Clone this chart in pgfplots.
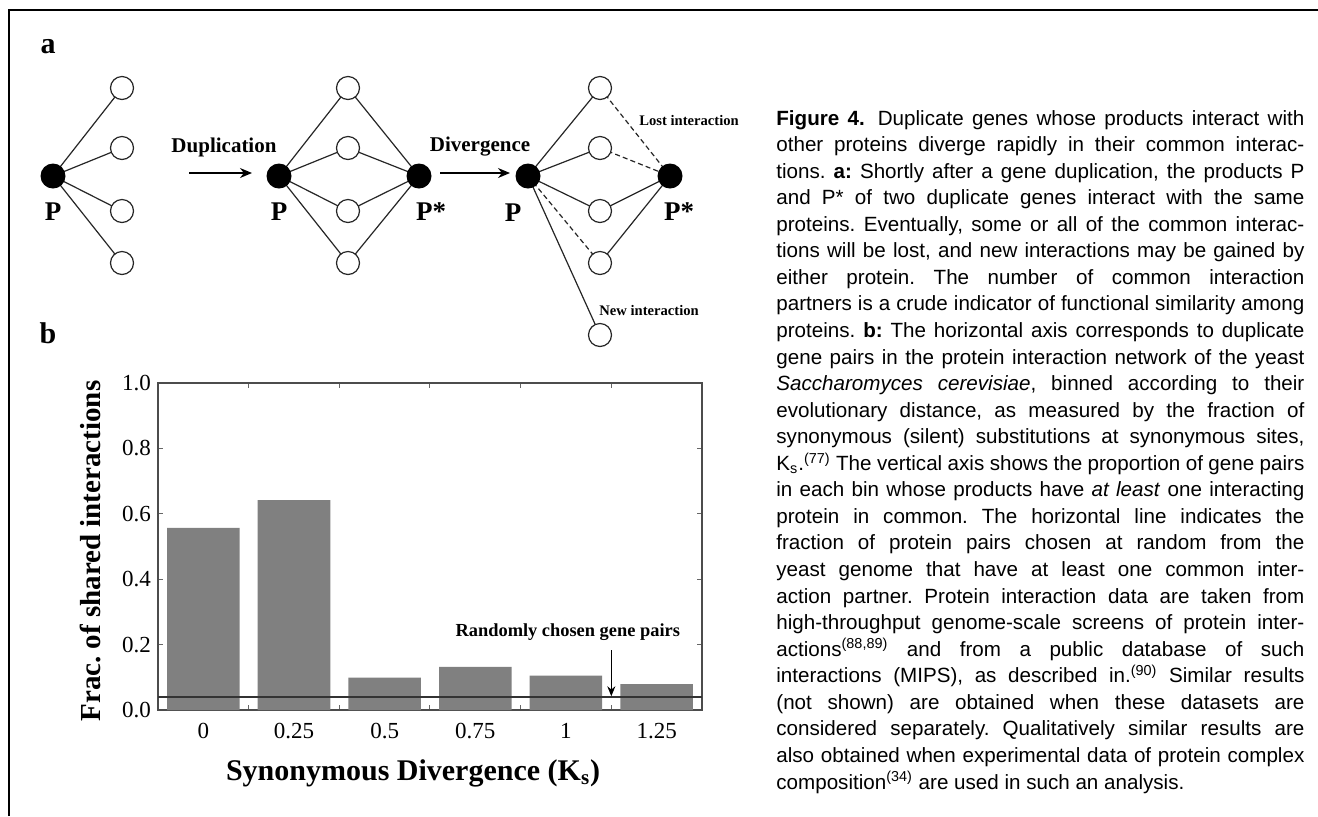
\documentclass[border=0pt]{standalone}
\usepackage{fontspec}
\setmainfont{Liberation Serif}
\setsansfont{Liberation Sans}
\usepackage{pgfplots}
\usepackage{pgfplotstable}
\pgfplotsset{compat=1.18}
\usetikzlibrary{arrows.meta}

\pgfplotstableread{
x y
0 0.557
1 0.642
2 0.099
3 0.132
4 0.105
5 0.079
}\bardata

\newcommand\cl[1]{\hbox to 264pt{#1}}

\begin{document}
\frenchspacing
\begin{tikzpicture}
\begin{scope}[x=0.5pt,y=-0.5pt]
\fill[white] (0,0) rectangle (1318,816);
\path[use as bounding box] (0,0) rectangle (1318,816);
\draw[line width=1pt] (8.5,816) -- (8.5,10) -- (1318,10);
\node[font=\fontsize{15}{15}\selectfont\bfseries, anchor=base, inner sep=0] at (48,53) {a};
\node[font=\fontsize{15}{15}\selectfont\bfseries, anchor=base, inner sep=0] at (48,343) {b};
% edges
\begin{scope}[line width=0.6pt, draw=black!85]
\foreach \y in {88,148,211,263} {
  \draw (53,176) -- (122,\y);
  \draw (279,176) -- (348,\y) -- (419,176);
}
\foreach \y in {88,148,211} \draw (528,176) -- (600,\y);
\draw[dash pattern=on 2.5pt off 1.6pt] (528,176) -- (600,263);
\draw (528,176) -- (600,335);
\draw[dash pattern=on 2.5pt off 1.6pt] (600,88) -- (670,176) (600,148) -- (670,176);
\draw (600,211) -- (670,176) (600,263) -- (670,176);
\end{scope}
\foreach \x in {122,348,600} \foreach \y in {88,148,211,263}
  \draw[draw=black!85, fill=white, line width=0.6pt] (\x,\y) circle[radius=11.5];
\draw[draw=black!85, fill=white, line width=0.6pt] (600,335) circle[radius=11.5];
\foreach \x in {53,279,419,528,670} \fill[black] (\x,176) circle[radius=12.5];
% labels
\begin{scope}[font=\fontsize{13.5}{13.5}\selectfont\bfseries, inner sep=0]
\node at (53,212) {P};
\node at (279,212) {P};
\node at (431,212) {P*};
\node at (513,213) {P};
\node at (679,212) {P*};
\end{scope}
\node[font=\fontsize{10.5}{10.5}\selectfont\bfseries, inner sep=0] at (224,147) {Duplication};
\node[font=\fontsize{10.5}{10.5}\selectfont\bfseries, inner sep=0] at (480,147) {Divergence};
\draw[-{Stealth[length=6pt,width=5pt]}, line width=0.7pt] (189,173) -- (252,173);
\draw[-{Stealth[length=6pt,width=5pt]}, line width=0.7pt] (440,173) -- (510,173);
\node[font=\fontsize{7.3}{7.3}\selectfont\bfseries, inner sep=0, anchor=west] at (639,120) {Lost interaction};
\node[font=\fontsize{7.3}{7.3}\selectfont\bfseries, inner sep=0, anchor=west] at (599,310) {New interaction};
% caption
\node[anchor=base west, inner sep=0, font=\sffamily\fontsize{10.3}{13.28}\selectfont] at (776,125) {\vtop{\baselineskip=13.28pt
\cl{\textbf{Figure 4.}\hskip 0.45em plus 2pt Duplicate genes whose products interact with}
\cl{other proteins diverge rapidly in their common interac-}
\cl{tions. \textbf{a:} Shortly after a gene duplication, the products P}
\cl{and P* of two duplicate genes interact with the same}
\cl{proteins. Eventually, some or all of the common interac-}
\cl{tions will be lost, and new interactions may be gained by}
\cl{either protein. The number of common interaction}
\cl{partners is a crude indicator of functional similarity among}
\cl{proteins. \textbf{b:} The horizontal axis corresponds to duplicate}
\cl{gene pairs in the protein interaction network of the yeast}
\cl{\textit{Saccharomyces cerevisiae}, binned according to their}
\cl{evolutionary distance, as measured by the fraction of}
\cl{synonymous (silent) substitutions at synonymous sites,}
\cl{K\textsubscript{s}.\textsuperscript{(77)} The vertical axis shows the proportion of gene pairs}
\cl{in each bin whose products have \textit{at least} one interacting}
\cl{protein in common. The horizontal line indicates the}
\cl{fraction of protein pairs chosen at random from the}
\cl{yeast genome that have at least one common inter-}
\cl{action partner. Protein interaction data are taken from}
\cl{high-throughput genome-scale screens of protein inter-}
\cl{actions\textsuperscript{(88,89)} and from a public database of such}
\cl{interactions (MIPS), as described in.\textsuperscript{(90)} Similar results}
\cl{(not shown) are obtained when these datasets are}
\cl{considered separately. Qualitatively similar results are}
\cl{also obtained when experimental data of protein complex}
\hbox{composition\textsuperscript{(34)} are used in such an analysis.}
}};
\end{scope}

\begin{axis}[
  at={(79pt,-355pt)}, anchor=south west,
  scale only axis, width=272pt, height=163.5pt,
  xmin=-0.5, xmax=5.5, ymin=0, ymax=1,
  xtick={0,1,2,3,4,5},
  xticklabels={0,0.25,0.5,0.75,1,1.25},
  minor xtick={0.5,1.5,2.5,3.5,4.5},
  major x tick style={draw=none},
  ytick={0,0.2,0.4,0.6,0.8,1},
  yticklabels={0.0,0.2,0.4,0.6,0.8,1.0},
  minor y tick num=0,
  tick align=inside,
  major tick length=2.5pt, minor tick length=2.5pt,
  tick style={black!60, line width=0.5pt},
  axis line style={black!70, line width=0.6pt},
  ticklabel style={font=\fontsize{11.5}{11.5}\selectfont},
  xticklabel style={yshift=-3pt},
  xlabel={Synonymous Divergence (K\textsubscript{s})},
  ylabel={Frac. of shared interactions},
  xlabel style={font=\fontsize{15}{15}\selectfont\bfseries, at={(axis description cs:0.469,-0.193)}, anchor=center},
  ylabel style={font=\fontsize{14.5}{14.5}\selectfont\bfseries, at={(axis description cs:-0.124,0.486)}, anchor=center},
  clip=false,
]
\addplot[ybar, bar width=36.25pt, fill=black!50, draw=none] table[x=x,y=y] {\bardata};
\addplot[black!80, line width=1.1pt] coordinates {(-0.5,0.039) (5.5,0.039)};
\draw[-{Stealth[length=5pt,width=4pt]}, line width=0.6pt] (axis cs:4.5,0.183) -- (axis cs:4.5,0.042);
\node[font=\fontsize{9.2}{9.2}\selectfont\bfseries, inner sep=0] at (axis cs:4.02,0.239) {Randomly chosen gene pairs};
\end{axis}
\end{tikzpicture}
\end{document}
